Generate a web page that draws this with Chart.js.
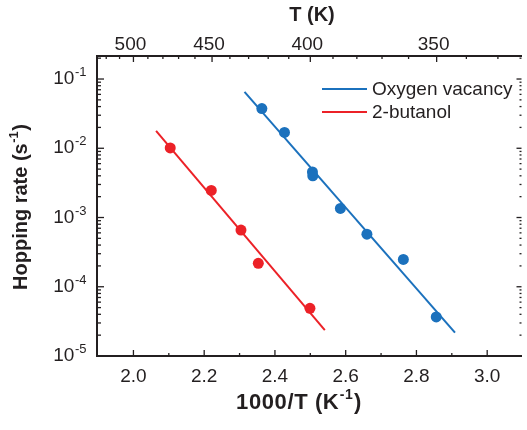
<!DOCTYPE html>
<html><head><meta charset="utf-8">
<script src="https://cdn.jsdelivr.net/npm/chart.js@4.4.0/dist/chart.umd.min.js"></script>
<style>html,body{margin:0;padding:0;background:#fff}#wrap{width:527px;height:430px;position:relative}</style>
</head><body><div id="wrap"><canvas id="c" width="527" height="430"></canvas></div>
<script>
// ---- data ----
const seriesNames = ['Oxygen vacancy', '2-butanol'];
const vacancyX = [2.363, 2.427, 2.506, 2.507, 2.585, 2.660, 2.763, 2.856];
const vacancyY = [0.0375, 0.0169, 0.00456, 0.0040, 0.00135, 0.000575, 0.000248, 0.0000366];
const butanolX = [2.104, 2.220, 2.304, 2.353, 2.499];
const butanolY = [0.0101, 0.00246, 0.000658, 0.000218, 0.0000488];
const vacancyFitX = [2.314, 2.909];
const vacancyFitY = [0.0652, 0.0000217];
const butanolFitX = [2.064, 2.541];
const butanolFitY = [0.0178, 0.0000237];
const xTicks = [2.0, 2.2, 2.4, 2.6, 2.8, 3.0];
const xMinorTicks = [2.1, 2.3, 2.5, 2.7, 2.9];
const topTicksK = [500, 450, 400, 350];
const topMinorK = [520, 510, 490, 480, 470, 460, 440, 430, 420, 410, 390, 380, 370, 360, 340, 330];
const yExponents = [-5, -4, -3, -2, -1];

const BLUE = '#1b71bd', RED = '#ec2127', INK = '#231f20';
const FAM = '"Liberation Sans", Arial, Helvetica, sans-serif';

const pts = (xs, ys) => xs.map((x, i) => ({x: x, y: ys[i]}));

function drawSup(ctx, base, sup, tail, x, y, align, size, supSize, bold, spacing) {
  const w = bold ? 'bold ' : '';
  const bf = w + size + 'px ' + FAM, sf = w + supSize + 'px ' + FAM;
  ctx.save();
  if (spacing) ctx.letterSpacing = spacing + 'px';
  ctx.font = bf; const bw = ctx.measureText(base).width; const tw = ctx.measureText(tail).width;
  ctx.font = sf; const sw = ctx.measureText(sup).width;
  const total = bw + sw + tw + 1;
  let x0 = align === 'right' ? x - total : (align === 'center' ? x - total / 2 : x);
  ctx.textAlign = 'left'; ctx.textBaseline = 'middle';
  ctx.font = bf; ctx.fillText(base, x0, y);
  ctx.font = sf; ctx.fillText(sup, x0 + bw + 0.5, y - size * 0.34);
  ctx.font = bf; ctx.fillText(tail, x0 + bw + sw + 1, y);
  ctx.restore();
}

const decor = {
  id: 'decor',
  afterDraw(chart) {
    const ctx = chart.ctx, a = chart.chartArea;
    const sx = chart.scales.x, sy = chart.scales.y;
    ctx.save();
    ctx.strokeStyle = INK; ctx.fillStyle = INK; ctx.lineWidth = 1.3;
    const line = (x1, y1, x2, y2) => { ctx.beginPath(); ctx.moveTo(x1, y1); ctx.lineTo(x2, y2); ctx.stroke(); };
    // bottom ticks
    xTicks.forEach(v => { const p = sx.getPixelForValue(v); line(p, a.bottom, p, a.bottom - 6); });
    xMinorTicks.forEach(v => { const p = sx.getPixelForValue(v); line(p, a.bottom, p, a.bottom - 3); });
    // top ticks
    topTicksK.forEach(T => { const p = sx.getPixelForValue(1000 / T); line(p, a.top, p, a.top + 6); });
    topMinorK.forEach(T => { const p = sx.getPixelForValue(1000 / T); line(p, a.top, p, a.top + 3); });
    // left / right ticks
    yExponents.forEach(e => {
      const base = Math.pow(10, e);
      const p = sy.getPixelForValue(base);
      line(a.left, p, a.left + 7, p); line(a.right, p, a.right - 5, p);
      for (let m = 2; m <= 9; m++) {
        const v = m * base;
        if (v > sy.max) break;
        const q = sy.getPixelForValue(v);
        line(a.left, q, a.left + 4, q); line(a.right, q, a.right - 2, q);
      }
    });
    // labels
    ctx.font = '19px ' + FAM; ctx.textAlign = 'center'; ctx.textBaseline = 'middle';
    xTicks.forEach(v => ctx.fillText(v.toFixed(1), sx.getPixelForValue(v), 377));
    topTicksK.forEach(T => ctx.fillText(String(T), sx.getPixelForValue(1000 / T) - 3, 45));
    yExponents.forEach(e => drawSup(ctx, '10', String(e), '', 87, sy.getPixelForValue(Math.pow(10, e)), 'right', 19, 13, false, 0));
    // titles
    ctx.font = 'bold 20px ' + FAM; ctx.textAlign = 'center'; ctx.textBaseline = 'middle';
    ctx.fillText('T (K)', 312, 15);
    drawSup(ctx, '1000/T (K', '-1', ')', 299, 403, 'center', 22, 14, true, 0.6);
    ctx.save(); ctx.translate(21, 207); ctx.rotate(-Math.PI / 2);
    drawSup(ctx, 'Hopping rate (s', '-1', ')', 0, 0, 'center', 20, 13, true, 0);
    ctx.restore();
    // legend
    const legendCols = [BLUE, RED], ly = [89, 112];
    seriesNames.forEach((name, i) => {
      ctx.strokeStyle = legendCols[i]; ctx.lineWidth = 2;
      line(322, ly[i], 367, ly[i]);
      ctx.fillStyle = INK; ctx.font = '19px ' + FAM; ctx.textAlign = 'left'; ctx.textBaseline = 'middle';
      ctx.fillText(name, 372, ly[i] + 1);
    });
    ctx.restore();
  }
};

new Chart(document.getElementById('c'), {
  type: 'scatter',
  data: {
    datasets: [
      {label: seriesNames[0], data: pts(vacancyX, vacancyY), backgroundColor: BLUE, borderColor: BLUE, pointRadius: 5.5, borderWidth: 0, showLine: false},
      {label: seriesNames[1], data: pts(butanolX, butanolY), backgroundColor: RED, borderColor: RED, pointRadius: 5.5, borderWidth: 0, showLine: false},
      {label: seriesNames[0] + ' fit', data: pts(vacancyFitX, vacancyFitY), borderColor: BLUE, borderWidth: 2, pointRadius: 0, showLine: true},
      {label: seriesNames[1] + ' fit', data: pts(butanolFitX, butanolFitY), borderColor: RED, borderWidth: 2, pointRadius: 0, showLine: true}
    ]
  },
  options: {
    responsive: false, animation: false, devicePixelRatio: 1,
    layout: {padding: 0},
    plugins: {legend: {display: false}, tooltip: {enabled: false}},
    scales: {
      x: {type: 'linear', position: 'bottom', min: 1.897, max: 3.097,
          grid: {display: false}, border: {display: true, color: INK, width: 2}, ticks: {display: false},
          afterFit: s => { s.height = 74; }},
      x2: {type: 'linear', position: 'top', min: 1.897, max: 3.097,
          grid: {display: false}, border: {display: true, color: INK, width: 2}, ticks: {display: false},
          afterFit: s => { s.height = 56; }},
      y: {type: 'logarithmic', position: 'left', min: 1e-5, max: 0.215,
          grid: {display: false}, border: {display: true, color: INK, width: 2}, ticks: {display: false},
          afterFit: s => { s.width = 97; }}
    }
  },
  plugins: [decor]
});
</script>
</body></html>
